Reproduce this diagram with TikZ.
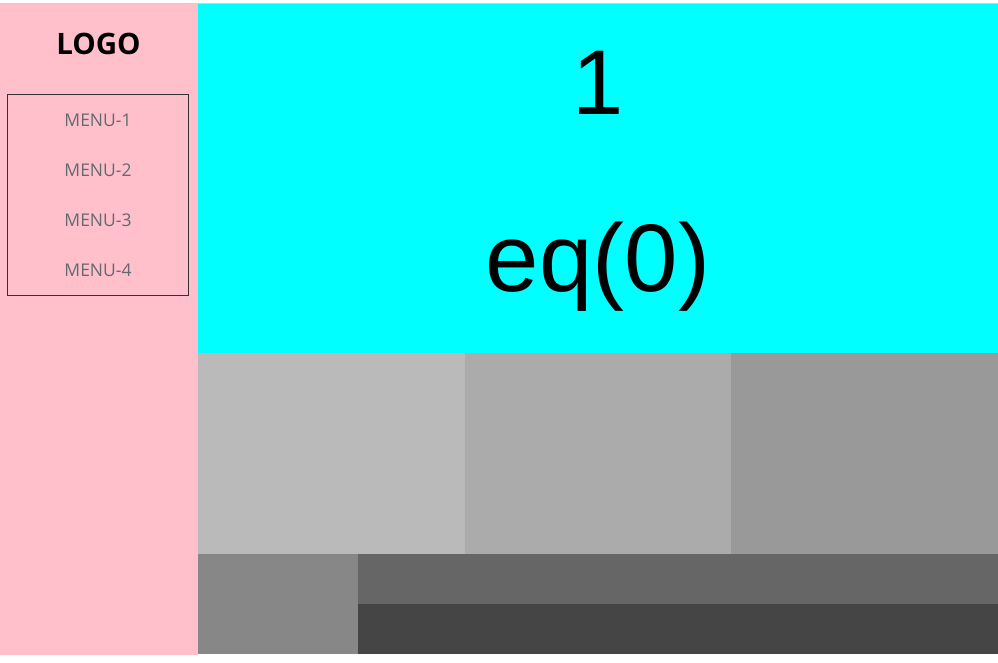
\documentclass[tikz,border=0pt]{standalone}
\usepackage{fontspec}
\setmainfont{Liberation Sans}
\newfontfamily\uifont{Open Sans}
\usepackage{tikz}
\usetikzlibrary{positioning}

\definecolor{sidepink}{HTML}{FFC0CB}
\definecolor{herocyan}{HTML}{00FFFF}
\definecolor{menuline}{HTML}{333333}
\definecolor{menutext}{HTML}{626A70}
\definecolor{topline}{HTML}{D0D0D0}

\begin{document}
\begin{tikzpicture}[x=1pt,y=-1pt,
                    every node/.style={inner sep=0pt,outer sep=0pt}]
\tikzstyle{panel}=[rectangle,draw=none,anchor=north west]
\tikzstyle{menuitem}=[anchor=base,text=menutext,font=\uifont\fontsize{17.5pt}{20pt}\selectfont]

        \useasboundingbox[fill=white] (0,0) rectangle (998,662);
        \draw[topline,line width=0.8pt] (0,3.2) -- (998,3.2);

        % sidebar and hero
        \node[panel, fill=sidepink, minimum width=198pt, minimum height=651pt]   (side) at (0,3.6) {};
        \node[panel, fill=herocyan, minimum width=800pt, minimum height=349.4pt] (hero) at (side.north east) {};

        % middle row
        \node[panel, fill=black!27, minimum width=267pt, minimum height=201pt]   (cellA) at (hero.south west) {};
        \node[panel, fill=black!33, minimum width=266pt, minimum height=201pt]   (cellB) at (cellA.north east) {};
        \node[panel, fill=black!40, minimum width=267pt, minimum height=201pt]   (cellC) at (cellB.north east) {};

        % bottom row
        \node[panel, fill=black!47, minimum width=160pt, minimum height=100pt]   (foot) at (cellA.south west) {};
        \node[panel, fill=black!60, minimum width=640pt, minimum height=50pt]    (barA) at (foot.north east) {};
        \node[panel, fill=black!73, minimum width=640pt, minimum height=50pt]    (barB) at (barA.south west) {};

        % sidebar contents
        \node[anchor=base, font=\uifont\bfseries\fontsize{29.5pt}{32pt}\selectfont] (logo) at (98.5,54.5) {LOGO};
        \node[panel, draw=menuline, line width=1pt, minimum width=181pt, minimum height=201pt] (menu) at (7.5,94.5) {};
        \foreach \i in {1,...,4}
          \node[menuitem] (menu\i) at (98,126.5+50*\i-50) {MENU-\i};

        % hero texts
        \node[anchor=base, font=\fontsize{92pt}{100pt}\selectfont] (num) at (598,114) {1};
        \node[anchor=base, font=\fontsize{96pt}{100pt}\selectfont] (eq) at (598,291) {eq(0)};

\end{tikzpicture}
\end{document}
